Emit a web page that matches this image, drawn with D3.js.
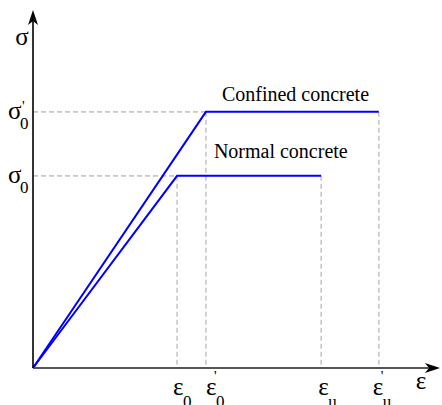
<!DOCTYPE html>
<html><head><meta charset="utf-8">
<script src="https://d3js.org/d3.v7.min.js"></script>
<style>body{margin:0;background:#fff}svg{display:block}</style>
</head><body>
<svg id="c" width="442" height="405"></svg>
<script>
// ---- data ----
const strainTickBase = ["ε", "ε", "ε", "ε"];
const strainTickSub = ["0", "0", "u", "u"];
const strainTickPrime = [false, true, false, true];
const strainTickValues = [2.0, 2.4, 4.0, 4.8];
const stressTickSub = ["0", "0"];
const stressTickPrime = [false, true];
const stressTickValues = [30, 40];
const seriesNames = ["Normal concrete", "Confined concrete"];
const normalStrain = [0, 2.0, 4.0];
const normalStress = [0, 30, 30];
const confinedStrain = [0, 2.4, 4.8];
const confinedStress = [0, 40, 40];
const axisLabels = ["ε", "σ"];

// ---- layout ----
const svg = d3.select("#c");
const x = d3.scaleLinear().domain([0, 5.65]).range([33, 440]);
const y = d3.scaleLinear().domain([0, 55.9]).range([368, 10]);
const dash = "#cbc7c2";
const FF = `"Liberation Serif"`;
const txt = (sel) => sel.append("text").style("font-family", FF).attr("fill", "#000");

// dashed guides
const guides = [
  {s: normalStrain[1], t: normalStress[1]},
  {s: confinedStrain[1], t: confinedStress[1]},
  {s: normalStrain[2], t: normalStress[2]},
  {s: confinedStrain[2], t: confinedStress[2]}
];
guides.forEach(g => {
  svg.append("line").attr("x1", x(g.s)).attr("x2", x(g.s))
    .attr("y1", y(g.t)).attr("y2", y(0))
    .attr("stroke", dash).attr("stroke-width", 1.6).attr("stroke-dasharray", "5,3");
});
[[normalStrain[1], normalStress[1]], [confinedStrain[1], confinedStress[1]]].forEach(([s, t]) => {
  svg.append("line").attr("x1", x(0)).attr("x2", x(s))
    .attr("y1", y(t)).attr("y2", y(t))
    .attr("stroke", dash).attr("stroke-width", 1.6).attr("stroke-dasharray", "5,3");
});

// series lines
const line = d3.line().x(d => x(d[0])).y(d => y(d[1]));
const series = [
  d3.zip(normalStrain, normalStress),
  d3.zip(confinedStrain, confinedStress)
];
series.forEach(pts => {
  svg.append("path").attr("d", line(pts)).attr("fill", "none")
    .attr("stroke", "#0000ff").attr("stroke-width", 2);
});

// axes
svg.append("line").attr("x1", x(0)).attr("x2", x.range()[1] - 4)
  .attr("y1", y(0)).attr("y2", y(0)).attr("stroke", "#555").attr("stroke-width", 2);
svg.append("line").attr("x1", x(0)).attr("x2", x(0))
  .attr("y1", y(0)).attr("y2", y.range()[1] + 6).attr("stroke", "#000").attr("stroke-width", 1.6);
// arrowheads
const xt = x.range()[1], yt = y.range()[1];
svg.append("path").attr("d",
  `M${xt},${y(0)} L${xt - 15},${y(0) - 5} L${xt - 11},${y(0)} L${xt - 15},${y(0) + 5} Z`).attr("fill", "#000");
svg.append("path").attr("d",
  `M${x(0)},${yt} L${x(0) - 5},${yt + 15} L${x(0)},${yt + 11} L${x(0) + 5},${yt + 15} Z`).attr("fill", "#000");

// axis labels
txt(svg).attr("x", 421).attr("y", 389).attr("text-anchor", "middle")
  .attr("font-size", 25).text(axisLabels[0]);
txt(svg).attr("x", 22).attr("y", 45).attr("text-anchor", "middle")
  .attr("font-size", 25).text(axisLabels[1]);

// x tick labels
const xOff = [-4, 0, -3, -6];
strainTickValues.forEach((v, i) => {
  const x0 = x(v) + xOff[i];
  txt(svg).attr("x", x0).attr("y", 395).attr("font-size", 25).text(strainTickBase[i]);
  txt(svg).attr("x", x0 + 10).attr("y", 407).attr("font-size", 17).text(strainTickSub[i]);
  if (strainTickPrime[i]) {
    txt(svg).attr("x", x0 + 8).attr("y", 381).attr("font-size", 15).text("'");
  }
});

// y tick labels
stressTickValues.forEach((v, i) => {
  txt(svg).attr("x", 8).attr("y", y(v) + 7).attr("font-size", 25).text("σ");
  txt(svg).attr("x", 20).attr("y", y(v) + 17).attr("font-size", 17).text(stressTickSub[i]);
  if (stressTickPrime[i]) {
    txt(svg).attr("x", 22).attr("y", y(v) - 1).attr("font-size", 15).text("'");
  }
});

// series name labels
txt(svg).attr("x", x(confinedStrain[1]) + 16).attr("y", y(confinedStress[1]) - 11)
  .attr("font-size", 20).text(seriesNames[1]);
txt(svg).attr("x", x(confinedStrain[1]) + 8).attr("y", y(normalStress[1]) - 18)
  .attr("font-size", 20).text(seriesNames[0]);
</script>
</body></html>
